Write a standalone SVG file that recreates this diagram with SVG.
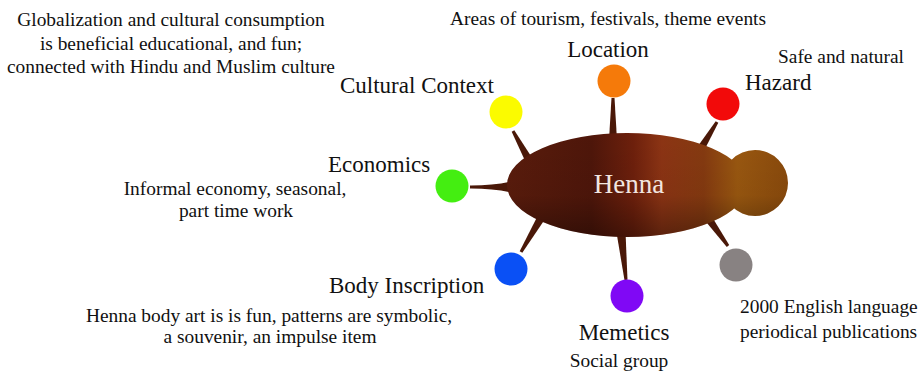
<svg xmlns="http://www.w3.org/2000/svg" width="920" height="374" viewBox="0 0 920 374">
<defs>
<linearGradient id="bodyH" gradientUnits="userSpaceOnUse" x1="507" y1="0" x2="788" y2="0">
<stop offset="0" stop-color="#5a1c0c"/>
<stop offset="0.3" stop-color="#4e160a"/>
<stop offset="0.45" stop-color="#6e200c"/>
<stop offset="0.55" stop-color="#8c3414"/>
<stop offset="0.7" stop-color="#853a10"/>
<stop offset="0.82" stop-color="#9a5810"/>
<stop offset="1" stop-color="#8a4a0c"/>
</linearGradient>
<linearGradient id="bodyV" gradientUnits="userSpaceOnUse" x1="0" y1="133" x2="0" y2="237">
<stop offset="0" stop-color="#000" stop-opacity="0"/>
<stop offset="0.6" stop-color="#000" stop-opacity="0.05"/>
<stop offset="1" stop-color="#000" stop-opacity="0.35"/>
</linearGradient>
<style>
.t{font-family:"Liberation Serif","Times New Roman",serif;fill:#111}
.lbl{font-size:23px}
.sm{font-size:19.4px}
.spk{fill:#4a1808}
</style>
</defs>
<rect width="920" height="374" fill="#fff"/>
<g id="connectors">
<polygon class="spk" points="617,140 614.5,98 611.5,98 609,140"/>
<polygon class="spk" points="703.4,152.1 718.3,122.8 715.7,121.2 696.6,147.9"/>
<polygon class="spk" points="533.5,160.1 514.3,130.3 511.7,131.7 526.5,163.9"/>
<path class="spk" d="M513,193 Q494,188.5 470,188.6 L470,185.4 Q494,185.5 513,181 Z"/>
<polygon class="spk" points="537.6,216 519.7,251.2 522.3,252.8 544.4,220"/>
<polygon class="spk" points="616.5,232.5 624.5,280.2 627.5,279.8 625.5,231.5"/>
<polygon class="spk" points="704.7,220.3 726.8,246.9 729.2,245.1 711.3,215.7"/>
</g>
<g id="henna">
<path d="M507,185 A120,52 0 1,0 747,185 A120,52 0 1,0 507,185 Z M722,183 A33,33 0 1,0 788,183 A33,33 0 1,0 722,183 Z" fill="url(#bodyH)"/>
<path d="M507,185 A120,52 0 1,0 747,185 A120,52 0 1,0 507,185 Z M722,183 A33,33 0 1,0 788,183 A33,33 0 1,0 722,183 Z" fill="url(#bodyV)"/>
<text class="t" x="629" y="193" font-size="27" text-anchor="middle" style="fill:#f2e6e0">Henna</text>
</g>
<g id="location">
<circle cx="614" cy="81" r="16.5" fill="#f57a0a"/>
<text class="t lbl" x="608" y="57" text-anchor="middle">Location</text>
<text class="t sm" x="608" y="25" text-anchor="middle">Areas of tourism, festivals, theme events</text>
</g>
<g id="hazard">
<circle cx="723" cy="104" r="16.5" fill="#f20a0a"/>
<text class="t lbl" x="745" y="90">Hazard</text>
<text class="t sm" x="778" y="63">Safe and natural</text>
</g>
<g id="cultural">
<circle cx="506" cy="112" r="16.5" fill="#fbfb00"/>
<text class="t lbl" x="340" y="93">Cultural Context</text>
<text class="t sm" x="171" y="26" text-anchor="middle">Globalization and cultural consumption</text>
<text class="t sm" x="171" y="50" text-anchor="middle">is beneficial educational, and fun;</text>
<text class="t sm" x="171" y="73" text-anchor="middle">connected with Hindu and Muslim culture</text>
</g>
<g id="economics">
<circle cx="452" cy="186" r="16.5" fill="#44ee11"/>
<text class="t lbl" x="328" y="172">Economics</text>
<text class="t sm" x="235" y="195" text-anchor="middle">Informal economy, seasonal,</text>
<text class="t sm" x="236" y="217" text-anchor="middle">part time work</text>
</g>
<g id="body-inscription">
<circle cx="511" cy="269" r="16.5" fill="#0a50f5"/>
<text class="t lbl" x="329" y="293">Body Inscription</text>
<text class="t sm" x="269" y="322" text-anchor="middle">Henna body art is is fun, patterns are symbolic,</text>
<text class="t sm" x="270" y="343" text-anchor="middle">a souvenir, an impulse item</text>
</g>
<g id="memetics">
<circle cx="627" cy="296" r="16.5" fill="#8008f5"/>
<text class="t lbl" x="624" y="340" text-anchor="middle">Memetics</text>
<text class="t sm" x="619" y="367" text-anchor="middle">Social group</text>
</g>
<g id="publications">
<circle cx="736" cy="265" r="16.5" fill="#888282"/>
<text class="t sm" x="740" y="313">2000 English language</text>
<text class="t sm" x="740" y="338">periodical publications</text>
</g>
</svg>
